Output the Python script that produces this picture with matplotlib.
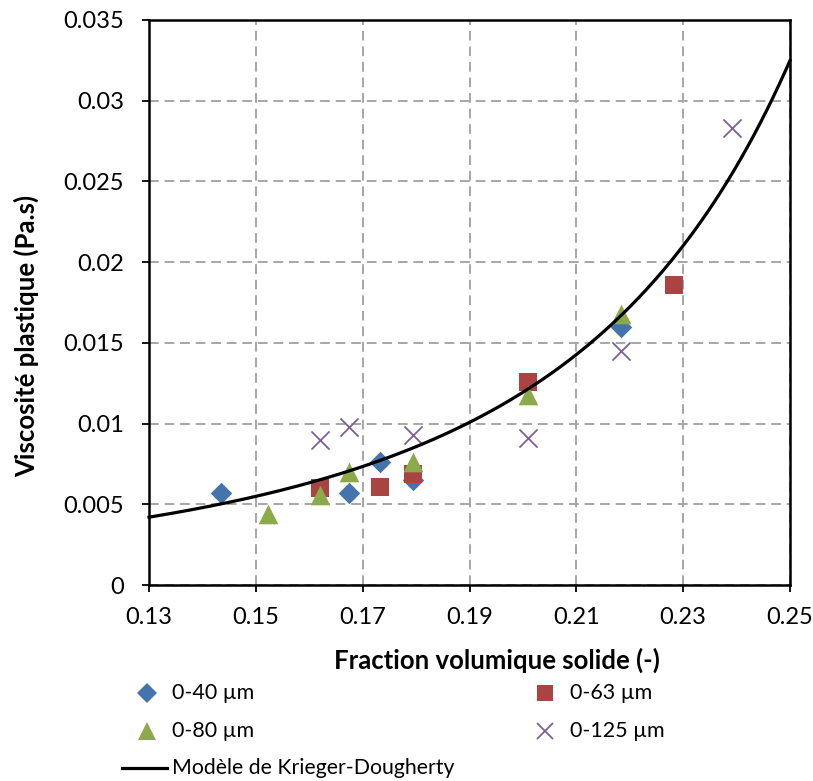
import numpy as np
import matplotlib
matplotlib.use("Agg")
import matplotlib.pyplot as plt
from matplotlib.lines import Line2D

plt.rcParams['font.family'] = ['Lato', 'DejaVu Sans']

# Data
x_40 = [0.1435, 0.1674, 0.1732, 0.1795, 0.2184]
y_40 = [0.0057, 0.0057, 0.0076, 0.0065, 0.0160]

x_63 = [0.1620, 0.1732, 0.1794, 0.2009, 0.2283]
y_63 = [0.0060, 0.0061, 0.0069, 0.0126, 0.0186]

x_80 = [0.1523, 0.1620, 0.1674, 0.1794, 0.2009, 0.2184]
y_80 = [0.0044, 0.0056, 0.0070, 0.0076, 0.0118, 0.0168]

x_125 = [0.1620, 0.1674, 0.1794, 0.2009, 0.2184, 0.2391]
y_125 = [0.0090, 0.0098, 0.0093, 0.0091, 0.0145, 0.0283]

# Krieger-Dougherty model parameters
eta0 = 0.00107
phi_m = 0.40
exponent = 3.48

xticks = [0.13, 0.15, 0.17, 0.19, 0.21, 0.23, 0.25]
xtick_labels = ['0.13', '0.15', '0.17', '0.19', '0.21', '0.23', '0.25']
yticks = [0, 0.005, 0.01, 0.015, 0.02, 0.025, 0.03, 0.035]
ytick_labels = ['0', '0.005', '0.01', '0.015', '0.02', '0.025', '0.03', '0.035']

W, H = 813, 781
fig = plt.figure(figsize=(W / 100, H / 100), dpi=100)
ax = fig.add_axes([149 / W, 1 - 585 / H, (790 - 149) / W, (585 - 20) / H])

phi = np.linspace(0.13, 0.25, 300)
eta = eta0 * (1 - phi / phi_m) ** (-exponent)

blue = '#4573AC'
red = '#A94442'
green = '#8BAA4A'
purple = '#7D5F9A'

ax.scatter(x_40, y_40, marker='D', s=120, color=blue, zorder=3, linewidths=0)
ax.scatter(x_63, y_63, marker='s', s=170, color=red, zorder=3, linewidths=0)
ax.scatter(x_80, y_80, marker='^', s=200, color=green, zorder=4, linewidths=0)
ax.scatter(x_125, y_125, marker='x', s=170, color=purple, zorder=5, linewidths=1.3)
ax.plot(phi, eta, color='black', lw=2.3, zorder=6, clip_on=False)

ax.set_xlim(0.13, 0.25)
ax.set_ylim(0, 0.035)
ax.set_xticks(xticks)
ax.set_xticklabels(xtick_labels)
ax.set_yticks(yticks)
ax.set_yticklabels(ytick_labels)
ax.tick_params(axis='both', direction='out', length=5, width=1.3, labelsize=17, colors='black')
ax.tick_params(axis='x', pad=11)
ax.tick_params(axis='y', pad=13)
for sp in ax.spines.values():
    sp.set_linewidth(1.8)
    sp.set_color('black')
ax.grid(True, color='#A6A6A6', linestyle=(0, (5, 3)), linewidth=1.4)
ax.set_axisbelow(True)

ax.set_xlabel('Fraction volumique solide (-)', fontsize=18.5, fontweight='bold')
ax.set_ylabel('Viscosité plastique (Pa.s)', fontsize=18.5, fontweight='bold')
ax.xaxis.set_label_coords((497 - 149) / 641, -(660 - 585) / 565)
ax.xaxis.label.set_va('center')
ax.yaxis.set_label_coords(-(149 - 26) / 641, (585 - 336) / 565)
ax.yaxis.label.set_va('center')

handles = [
    Line2D([], [], marker='D', ls='', color=blue, markersize=10, markeredgewidth=0),
    Line2D([], [], marker='s', ls='', color=red, markersize=12, markeredgewidth=0),
    Line2D([], [], marker='^', ls='', color=green, markersize=13, markeredgewidth=0),
    Line2D([], [], marker='x', ls='', color=purple, markersize=12, markeredgewidth=1.3),
]
labels = ['0-40 µm', '0-63 µm', '0-80 µm', '0-125 µm']
positions = [(147, 693), (545, 693), (147, 731), (545, 731)]
for h, lab, (px, py) in zip(handles, labels, positions):
    fig.add_artist(Line2D([px / W], [1 - py / H], marker=h.get_marker(), ls='',
                          color=h.get_color(), markersize=h.get_markersize(),
                          markeredgewidth=h.get_markeredgewidth()))
    fig.text((px + 25) / W, 1 - py / H, lab, fontsize=15.5, va='center', ha='left')

fig.add_artist(Line2D([122 / W, 167 / W], [1 - 768 / H, 1 - 768 / H], color='black', lw=2.3))
fig.text(172 / W, 1 - 768 / H, 'Modèle de Krieger-Dougherty', fontsize=15.3, va='center', ha='left')

fig.savefig('out.png', dpi=100)
